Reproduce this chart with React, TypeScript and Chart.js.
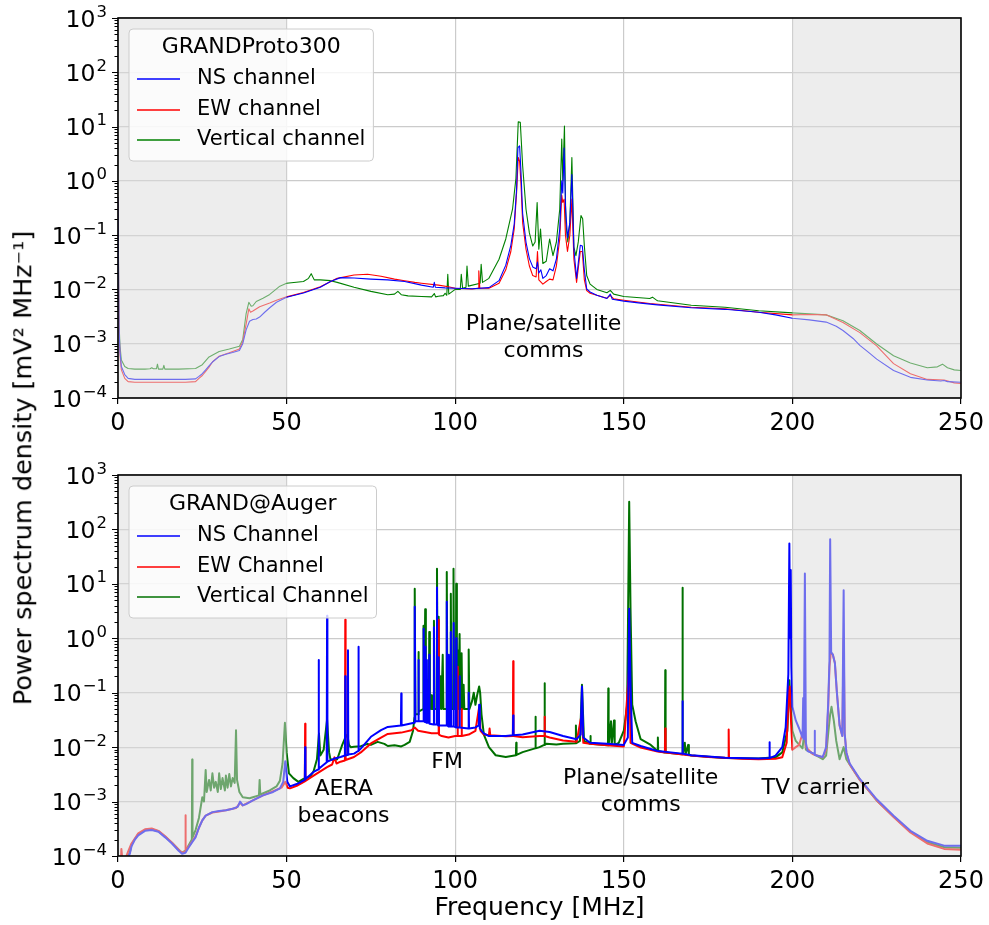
import React, { useEffect, useRef } from 'react';
import { Chart, registerables } from 'chart.js';

Chart.register(...registerables);

const FONT = '"DejaVu Sans", "Liberation Sans", sans-serif';
Chart.defaults.font.family = FONT;

// Axes
const freqTicks = [0, 50, 100, 150, 200, 250];
const psdDecades = [-4, -3, -2, -1, 0, 1, 2, 3];
const shadedBands = [[0, 50], [200, 250]];

// GRANDProto300 spectra, [frequency MHz, PSD mV²/MHz]
const proto300Ns = [
  [0, 0.5], [0.3, 2.0e-3], [0.6, 7e-4], [1, 3.8e-4], [2, 2.7e-4], [3, 2.3e-4], [5, 2.2e-4], [10, 2.2e-4],
  [15, 2.2e-4], [20, 2.2e-4], [23, 2.25e-4], [24, 2.5e-4], [25, 2.8e-4], [26, 3.3e-4], [27, 3.9e-4],
  [28, 4.6e-4], [30, 5.8e-4], [32, 6.4e-4], [34, 6.9e-4], [36, 7.5e-4], [37, 1.0e-3], [38, 1.8e-3],
  [39, 2.6e-3], [40, 2.8e-3], [41, 2.85e-3], [42, 3.1e-3], [43.5, 3.8e-3], [45, 4.6e-3], [47, 5.8e-3],
  [50, 7.2e-3], [55, 8.6e-3], [60, 1.1e-2], [63, 1.4e-2], [66, 1.65e-2], [70, 1.62e-2], [75, 1.55e-2],
  [80, 1.5e-2], [85, 1.4e-2], [90, 1.2e-2], [93.5, 1.1e-2], [93.8, 1.35e-2], [94.1, 1.1e-2], [97, 1.07e-2],
  [100, 1.05e-2], [105, 1.03e-2], [110, 1.08e-2], [113, 1.45e-2], [115, 2.8e-2], [116.5, 6.5e-2],
  [117.5, 0.16], [118.2, 0.7], [118.6, 4.1], [119.1, 4.4], [119.5, 1.5], [120, 0.25], [121, 7.4e-2],
  [122, 3.7e-2], [123, 2.6e-2], [124, 2.4e-2], [124.4, 3.2e-2], [124.8, 2.0e-2], [125.4, 2.3e-2],
  [126, 1.6e-2], [127, 1.8e-2], [128, 2.4e-2], [129, 2.2e-2], [130, 3.6e-2], [131, 0.13], [131.6, 1.0],
  [131.9, 0.6], [132.3, 4.0], [132.7, 0.35], [133.3, 0.09], [134, 0.17], [134.6, 1.3], [135.2, 5.5e-2],
  [136, 1.6e-2], [136.6, 3.5e-2], [137.1, 6.5e-2], [137.7, 6.3e-2], [138.3, 2.3e-2], [139, 1.02e-2],
  [140, 9e-3], [142, 7.8e-3], [145, 6.8e-3], [146, 8.2e-3], [146.6, 6.6e-3], [150, 6.1e-3], [155, 5.6e-3],
  [160, 5.2e-3], [170, 4.6e-3], [180, 4.3e-3], [190, 3.8e-3], [195, 3.4e-3], [200, 2.95e-3],
  [205, 2.75e-3], [210, 2.5e-3], [213, 2.1e-3], [215, 1.75e-3], [218, 1.25e-3], [220, 9.3e-4],
  [222.5, 7e-4], [225, 5.2e-4], [230, 3.2e-4], [235, 2.4e-4], [240, 2.15e-4], [244, 2.05e-4],
  [245, 2.1e-4], [246, 2.0e-4], [250, 1.95e-4],
];

const proto300Ew = [
  [0, 0.5], [0.3, 1.8e-3], [0.6, 6e-4], [1, 3.3e-4], [2, 2.3e-4], [3, 2.0e-4], [5, 1.95e-4], [10, 1.95e-4],
  [20, 1.95e-4], [23, 2.0e-4], [24, 2.3e-4], [25, 2.6e-4], [26, 3.1e-4], [27, 3.7e-4], [28, 4.6e-4],
  [30, 5.9e-4], [33, 6.8e-4], [36, 8.0e-4], [37, 1.1e-3], [38, 2.3e-3], [38.8, 4.4e-3], [39.3, 3.8e-3],
  [40, 4.0e-3], [42, 4.8e-3], [45, 5.6e-3], [47, 6.3e-3], [50, 7.3e-3], [55, 8.8e-3], [60, 1.12e-2],
  [65, 1.6e-2], [70, 1.85e-2], [74, 1.9e-2], [78, 1.75e-2], [82, 1.55e-2], [85, 1.45e-2], [88, 1.35e-2],
  [90, 1.3e-2], [95, 1.2e-2], [98, 1.12e-2], [100, 1.05e-2], [105, 1.02e-2], [106.8, 1.05e-2],
  [107, 2.2e-2], [107.3, 1.05e-2], [110, 1.05e-2], [113, 1.3e-2], [115, 2.3e-2], [116.5, 5e-2],
  [117.5, 0.13], [118.2, 0.6], [118.7, 2.7], [119.1, 2.3], [119.5, 0.9], [120, 0.17], [121, 5.5e-2],
  [122, 2.7e-2], [123, 1.8e-2], [124, 1.7e-2], [124.4, 5e-2], [124.8, 1.5e-2], [126, 1.25e-2],
  [127, 1.4e-2], [128, 1.55e-2], [129, 1.5e-2], [130, 2.7e-2], [131, 8.5e-2], [131.6, 0.55],
  [131.9, 0.4], [132.3, 0.46], [132.7, 0.1], [133.3, 5e-2], [134, 0.1], [134.6, 0.46], [135.2, 3.6e-2],
  [136, 1.35e-2], [137.1, 5e-2], [137.7, 5e-2], [138.3, 1.5e-2], [139, 9.5e-3], [140, 8.5e-3],
  [145, 6.9e-3], [146, 7.8e-3], [147, 6.7e-3], [150, 6.3e-3], [157.7, 5.5e-3], [170, 4.7e-3],
  [180, 4.4e-3], [190, 3.8e-3], [200, 3.4e-3], [205, 3.45e-3], [210, 3.4e-3], [215, 2.45e-3],
  [220, 1.6e-3], [225, 9.1e-4], [230, 4.3e-4], [235, 2.8e-4], [240, 2.2e-4], [245, 2.15e-4],
  [248, 1.9e-4], [250, 1.85e-4],
];

const proto300Vert = [
  [0, 0.5], [0.3, 2.4e-3], [0.6, 9e-4], [1, 5e-4], [2, 3.8e-4], [3, 3.5e-4], [5, 3.4e-4], [8, 3.4e-4],
  [9.5, 3.45e-4], [10, 3.6e-4], [10.5, 3.45e-4], [11.4, 3.45e-4], [11.7, 4.2e-4], [12, 3.4e-4],
  [13.3, 3.4e-4], [13.6, 4.0e-4], [13.9, 3.4e-4], [18, 3.4e-4], [23, 3.5e-4], [25, 4.1e-4], [27, 5.7e-4],
  [30, 7.2e-4], [33, 8.0e-4], [36, 9.0e-4], [37, 1.2e-3], [38, 3.6e-3], [38.8, 5.8e-3], [39.5, 4.9e-3],
  [40, 5.0e-3], [41, 6.0e-3], [43, 6.9e-3], [45, 8.1e-3], [48, 1.15e-2], [50, 1.3e-2], [55, 1.4e-2],
  [56.5, 1.6e-2], [57.3, 1.95e-2], [58.2, 1.5e-2], [60, 1.5e-2], [63, 1.45e-2], [65, 1.35e-2],
  [70, 1.1e-2], [75, 9.2e-3], [80, 8.0e-3], [82, 8.2e-3], [83, 9.2e-3], [84, 8.0e-3], [86, 7.6e-3],
  [90, 7.4e-3], [93, 7.3e-3], [93.8, 8.4e-3], [94.2, 7.3e-3], [95, 7.5e-3], [96.5, 7.7e-3], [97, 8.5e-3],
  [97.5, 7.8e-3], [97.8, 1.9e-2], [98.1, 8.2e-3], [99, 9e-3], [100, 1.0e-2], [101.5, 1.0e-2],
  [101.8, 1.9e-2], [102.2, 1.05e-2], [103.2, 1.1e-2], [103.5, 2.7e-2], [103.9, 1.15e-2], [107.4, 1.3e-2],
  [107.7, 2.9e-2], [108.1, 1.35e-2], [110, 1.6e-2], [113, 3.6e-2], [115, 8.5e-2], [117, 0.3], [118, 1.1],
  [118.7, 12.2], [119.3, 12], [120, 1.9], [121, 0.3], [122, 0.11], [123, 6.3e-2], [123.7, 7.5e-2],
  [124.3, 0.4], [124.8, 5.5e-2], [125.3, 0.13], [126, 3e-2], [127, 3.3e-2], [128, 8.5e-2], [129, 4.2e-2],
  [130, 7.4e-2], [131, 0.3], [131.6, 5.9], [131.9, 1.0], [132.4, 10.2], [132.8, 0.17], [133.4, 7.5e-2],
  [134, 0.17], [134.6, 2.7], [135.2, 6e-2], [135.8, 4.2e-2], [136.5, 7.5e-2], [137.3, 0.23],
  [137.8, 0.2], [138.3, 6.3e-2], [139, 1.8e-2], [140, 1.25e-2], [142, 1.0e-2], [145, 8.7e-3],
  [146, 9.6e-3], [147, 8.2e-3], [150, 7.4e-3], [157.7, 6.8e-3], [158.5, 7.2e-3], [159.5, 6.5e-3],
  [160, 6.2e-3], [170, 5.1e-3], [180, 4.7e-3], [190, 4.05e-3], [200, 3.7e-3], [210, 3.4e-3],
  [215, 2.65e-3], [220, 1.75e-3], [225, 9.9e-4], [230, 6e-4], [235, 4.4e-4], [240, 3.6e-4],
  [243, 3.75e-4], [244.5, 4.2e-4], [246, 3.6e-4], [248, 3.3e-4], [250, 3.2e-4],
];

// GRAND@Auger spectra, [frequency MHz, PSD mV²/MHz]
const augerNs = [
  [2.5, 8e-5], [3.5, 1.1e-4], [4, 1.5e-4], [5, 2.0e-4], [6, 2.4e-4], [8, 2.9e-4], [10, 3.0e-4], [12, 2.8e-4],
  [14, 2.2e-4], [16, 1.7e-4], [18, 1.25e-4], [19, 1.1e-4], [20, 1.15e-4], [21, 1.45e-4], [22, 1.8e-4],
  [23, 2.2e-4], [24, 3.3e-4], [25, 4.5e-4], [26, 5.5e-4], [28, 6.4e-4], [30, 6.7e-4], [32, 6.9e-4],
  [34, 7.4e-4], [35.5, 8.0e-4], [36.2, 1.0e-3], [37, 8.5e-4], [38, 9.0e-4], [40, 1.05e-3], [43, 1.3e-3],
  [46, 1.5e-3], [48, 1.75e-3], [49, 2.3e-3], [49.6, 5.5e-3], [50.2, 2.3e-3], [51, 1.9e-3], [53, 2.1e-3],
  [55.4, 2.5e-3], [55.5, 1.0e-2], [55.6, 2.6e-3], [58, 3.5e-3], [59.4, 3.9e-3], [59.5, 0.4], [59.6, 4.0e-3],
  [61.9, 5.3e-3], [62, 2.6], [62.1, 5.4e-3], [64, 6.1e-3], [66, 6.6e-3], [67.3, 7.0e-3], [67.4, 0.2],
  [67.5, 7.0e-3], [68.1, 7.2e-3], [68.2, 0.6], [68.3, 7.3e-3], [70, 7.6e-3], [71.2, 8.5e-3], [71.3, 0.7],
  [71.4, 8.6e-3], [72, 9.4e-3], [75, 1.55e-2], [78, 2.05e-2], [80, 2.35e-2], [83.9, 2.5e-2], [84, 9.7e-2],
  [84.1, 2.5e-2], [87.8, 2.8e-2], [88, 3.8], [88.2, 3.0e-2], [89, 3.0e-2], [89.1, 0.4], [89.2, 3.0e-2],
  [90.5, 3.0e-2], [90.6, 1.5], [90.7, 3.0e-2], [91.0, 2.9e-2], [91.1, 0.7], [91.2, 2.9e-2], [91.5, 2.8e-2],
  [91.6, 0.4], [91.7, 2.8e-2], [92.2, 2.8e-2], [92.3, 0.5], [92.4, 2.7e-2], [93.6, 2.6e-2], [93.7, 1.6],
  [93.8, 2.6e-2], [94.5, 2.6e-2], [94.6, 8.6], [94.7, 2.6e-2], [95.0, 2.5e-2], [95.1, 0.45], [95.2, 2.5e-2],
  [97.4, 2.5e-2], [97.5, 4.7], [97.6, 2.5e-2], [98.0, 2.4e-2], [98.1, 0.5], [98.2, 2.4e-2], [98.6, 2.4e-2],
  [98.7, 1.3], [98.8, 2.4e-2], [99.4, 2.4e-2], [99.5, 1.9], [99.6, 2.4e-2], [100.2, 2.3e-2], [100.3, 1.0],
  [100.4, 2.3e-2], [101.2, 2.3e-2], [101.3, 0.2], [101.4, 2.3e-2], [103.9, 2.2e-2], [104, 0.1],
  [104.1, 2.2e-2], [106, 2.3e-2], [107, 2.5e-2], [107.1, 6e-2], [107.3, 2.2e-2], [108.4, 1.8e-2],
  [110, 1.6e-2], [115, 1.6e-2], [117.1, 1.65e-2], [117.2, 3.8e-2], [117.3, 1.65e-2], [120, 1.7e-2],
  [125, 2.0e-2], [128, 1.9e-2], [132, 1.6e-2], [136, 1.4e-2], [137.2, 1.7e-2], [137.6, 0.13], [138, 1.5e-2],
  [140, 1.2e-2], [145, 1.15e-2], [150, 1.1e-2], [151.2, 1.5e-2], [151.6, 3.5], [152, 0.13], [152.5, 1.2e-2],
  [155, 1.05e-2], [160, 8.5e-3], [167.3, 7.6e-3], [167.4, 7e-2], [167.5, 7.6e-3], [170, 7.1e-3],
  [180, 6.4e-3], [190, 6.2e-3], [193.1, 6.3e-3], [193.2, 1.23e-2], [193.3, 6.3e-3], [195, 7e-3],
  [197, 1.0e-2], [198, 2.3e-2], [198.8, 0.22], [199.1, 55], [199.3, 1.0], [199.5, 18], [199.7, 0.3],
  [200, 5.5e-2], [201, 3.1e-2], [202, 2.2e-2], [203, 1.5e-2], [203.2, 8e-2], [203.4, 1.4e-2], [203.7, 15.5],
  [204, 1.2e-2], [204.5, 8.5e-3], [206.5, 7.5e-3], [206.6, 2e-2], [206.7, 7.2e-3], [209, 6.6e-3],
  [210, 1e-2], [210.6, 6e-2], [211, 0.4], [211.2, 66], [211.5, 0.55], [212, 0.5], [212.6, 0.35],
  [213.2, 0.1], [214, 2.5e-2], [214.8, 1.6e-2], [215.2, 7.6], [215.5, 1.8e-2], [216, 8e-3], [217, 5e-3],
  [220, 2.6e-3], [225, 1.1e-3], [230, 5.5e-4], [235, 2.9e-4], [240, 1.9e-4], [245, 1.55e-4], [250, 1.55e-4],
];

const augerEw = [
  [0.8, 5e-5], [1.0, 1.35e-4], [1.3, 8.5e-5], [2.2, 9e-5], [3, 1.2e-4], [4, 1.7e-4], [5, 2.1e-4], [6, 2.6e-4],
  [8, 3.1e-4], [10, 3.2e-4], [12, 2.9e-4], [14, 2.3e-4], [16, 1.75e-4], [18, 1.3e-4], [19, 1.15e-4],
  [19.9, 1.2e-4], [20, 5.6e-4], [20.1, 1.25e-4], [21, 1.5e-4], [22, 1.85e-4], [23, 2.3e-4], [24, 3.3e-4],
  [25, 4.5e-4], [26, 5.5e-4], [28, 6.3e-4], [30, 6.6e-4], [32, 6.9e-4], [35, 7.6e-4], [36.2, 9.5e-4],
  [37, 8.5e-4], [40, 1.05e-3], [43, 1.3e-3], [46, 1.55e-3], [48.5, 1.8e-3], [49.6, 2.3e-3], [50.3, 1.8e-3],
  [51, 1.75e-3], [53, 1.95e-3], [55.4, 2.35e-3], [55.5, 2.7e-2], [55.6, 2.4e-3], [58, 3.0e-3], [60, 3.6e-3],
  [62, 4.3e-3], [63.5, 4.8e-3], [64.2, 6.5e-3], [64.8, 5.0e-3], [66, 5.4e-3], [67.3, 5.7e-3], [67.4, 2.2],
  [67.5, 5.8e-3], [70, 6.6e-3], [72, 8e-3], [75, 1.17e-2], [78, 1.5e-2], [80, 1.75e-2], [84, 1.85e-2],
  [87, 2.05e-2], [88, 2.3e-2], [89, 2.0e-2], [91, 1.9e-2], [93, 1.8e-2], [95.0, 1.8e-2], [95.1, 2.2],
  [95.2, 1.7e-2], [96, 1.6e-2], [98, 1.5e-2], [100, 1.6e-2], [100.6, 1.6e-2], [100.7, 0.3], [100.8, 1.6e-2],
  [101.8, 1.6e-2], [101.9, 5e-2], [102, 1.6e-2], [104, 1.7e-2], [106, 2.0e-2], [107.1, 5.4e-2],
  [107.5, 2.0e-2], [108.5, 1.7e-2], [110, 1.65e-2], [110.2, 2.2e-2], [110.4, 1.65e-2], [115, 1.58e-2],
  [117.1, 1.6e-2], [117.2, 0.38], [117.3, 1.6e-2], [120, 1.52e-2], [125, 1.6e-2], [126.4, 1.6e-2],
  [126.5, 3.6e-2], [126.6, 1.6e-2], [128, 1.5e-2], [132, 1.32e-2], [136, 1.25e-2], [137.5, 4e-2],
  [138, 1.2e-2], [140, 1.15e-2], [145, 1.08e-2], [150, 1.03e-2], [151.6, 0.3], [152, 1.2e-2],
  [155, 9.8e-3], [160, 8.3e-3], [162.2, 8e-3], [162.3, 2.2e-2], [162.4, 8e-3], [165, 7.6e-3], [170, 7e-3],
  [175, 6.6e-3], [181, 6.3e-3], [181.1, 2.1e-2], [181.2, 6.3e-3], [185, 6.1e-3], [190, 6.0e-3],
  [195, 6.1e-3], [197, 6.5e-3], [198.3, 1.2e-2], [198.9, 0.1], [199.2, 0.13], [199.5, 4e-2], [200, 9e-3],
  [201, 1e-2], [202, 1.1e-2], [203, 1.8e-2], [203.6, 3e-2], [204, 1e-2], [206, 7.5e-3], [209, 6.5e-3],
  [210, 9e-3], [210.6, 5e-2], [211, 0.3], [211.4, 0.55], [212, 0.5], [212.6, 0.35], [213.2, 0.1],
  [214, 2.5e-2], [214.8, 1.6e-2], [215.2, 1.0], [215.5, 1.8e-2], [216, 8e-3], [217, 4.8e-3], [220, 2.5e-3],
  [225, 1.05e-3], [230, 5.2e-4], [235, 2.7e-4], [240, 1.7e-4], [245, 1.35e-4], [250, 1.3e-4],
];

const augerVert = [
  [1.5, 6e-5], [2.5, 9e-5], [3.5, 1.15e-4], [4, 1.6e-4], [5, 2.05e-4], [6, 2.5e-4], [8, 3.0e-4], [10, 3.1e-4],
  [12, 2.85e-4], [14, 2.25e-4], [16, 1.75e-4], [18, 1.3e-4], [19, 1.15e-4], [20, 1.25e-4], [21, 1.6e-4],
  [21.9, 2.0e-4], [22, 5.9e-3], [22.1, 2.2e-4], [23, 3e-4], [24, 5e-4], [25, 1.2e-3], [25.5, 1.0e-3],
  [26, 3.8e-3], [26.3, 1.5e-3], [27, 2.5e-3], [27.5, 1.6e-3], [28, 3.3e-3], [28.5, 1.8e-3], [29, 2.3e-3],
  [29.6, 1.5e-3], [30, 3.3e-3], [30.5, 1.7e-3], [31, 2.7e-3], [31.7, 1.6e-3], [32, 3.0e-3], [32.5, 1.8e-3],
  [33, 3.2e-3], [33.5, 1.9e-3], [34, 2.7e-3], [34.6, 2.2e-3], [35, 2.05e-2], [35.3, 2.5e-3], [36, 1.5e-3],
  [37, 1.2e-3], [39, 1.15e-3], [40, 1.2e-3], [41.8, 1.3e-3], [42, 2.5e-3], [42.2, 1.35e-3], [45, 1.6e-3],
  [47, 1.9e-3], [48, 2.4e-3], [48.8, 5e-3], [49.5, 2.8e-2], [50, 8e-3], [50.7, 3.3e-3], [52, 2.7e-3],
  [53.5, 2.3e-3], [55, 2.6e-3], [57, 2.9e-3], [58, 3.6e-3], [59, 6e-3], [59.6, 1.78e-2], [60, 7e-3],
  [61, 9e-3], [62, 3.2e-2], [62.6, 8e-3], [63, 6e-3], [64, 5.8e-3], [65, 6e-3], [66.5, 1.1e-2],
  [67.4, 1.5e-2], [68, 1.7e-2], [68.5, 1.1e-2], [69, 1.0e-2], [70, 1.02e-2], [72, 1.04e-2], [74, 1.15e-2],
  [75, 1.1e-2], [77, 1.25e-2], [79, 1.15e-2], [80, 1.05e-2], [82, 1.08e-2], [84, 1.03e-2], [85, 1.1e-2],
  [86.5, 1.25e-2], [87.5, 2.0e-2], [87.9, 3.5e-2], [88, 8.1], [88.2, 4e-2], [89, 4e-2], [89.1, 0.56],
  [89.2, 4.5e-2], [90.5, 5e-2], [90.6, 1.7], [90.8, 5e-2], [91, 5e-2], [91.1, 3.4], [91.3, 5e-2],
  [92.2, 5e-2], [92.3, 1.3], [92.5, 5e-2], [92.9, 9e-2], [93.1, 5e-2], [93.6, 5e-2], [93.7, 2.1],
  [93.9, 5e-2], [94.5, 5e-2], [94.6, 19], [94.8, 5e-2], [95.0, 5e-2], [95.1, 2.5], [95.3, 5e-2],
  [95.7, 0.2], [95.9, 5e-2], [96.3, 0.5], [96.5, 5e-2], [97.4, 5e-2], [97.5, 16.6], [97.7, 5e-2],
  [98.1, 0.1], [98.3, 5e-2], [98.6, 5e-2], [98.7, 6.6], [98.9, 5e-2], [99.4, 5e-2], [99.5, 19],
  [99.7, 5e-2], [100.2, 5e-2], [100.3, 10], [100.5, 5e-2], [100.7, 0.6], [100.9, 5e-2], [101.3, 1.2],
  [101.5, 5e-2], [101.9, 0.53], [102.1, 5e-2], [102.5, 0.14], [102.7, 5e-2], [103.9, 5e-2], [104, 0.62],
  [104.2, 5e-2], [105, 7e-2], [105.5, 0.1], [106, 6e-2], [106.5, 9e-2], [107.1, 0.13], [107.4, 0.1],
  [107.8, 4e-2], [108.5, 1.7e-2], [110, 1.0e-2], [112, 7.1e-3], [115, 6.6e-3], [118, 7.1e-3],
  [118.1, 1.2e-2], [118.2, 7.2e-3], [120, 8.1e-3], [123.7, 9.5e-3], [123.8, 3.6e-2], [123.9, 9.5e-3],
  [125, 1.0e-2], [126.4, 1.1e-2], [126.5, 0.15], [126.6, 1.1e-2], [127, 1.15e-2], [130, 1.12e-2],
  [132, 1.15e-2], [135.7, 1.18e-2], [135.8, 2.5e-2], [135.9, 1.18e-2], [137, 1.3e-2], [137.6, 0.14],
  [138.2, 1.3e-2], [140, 1.15e-2], [140.1, 1.6e-2], [140.2, 1.15e-2], [145.3, 1.08e-2], [145.4, 0.12],
  [145.5, 1.08e-2], [146.2, 3e-2], [146.4, 1.1e-2], [147.1, 3.1e-2], [147.3, 1.1e-2], [148.5, 1.2e-2],
  [150, 2e-2], [151, 6e-2], [151.6, 324], [152, 3.3], [152.5, 6e-2], [153.5, 3e-2], [155, 1.4e-2],
  [158, 1.1e-2], [160, 8.5e-3], [160.1, 1.5e-2], [160.2, 8.5e-3], [162.2, 8e-3], [162.3, 0.26],
  [162.4, 8e-3], [167.3, 7.4e-3], [167.4, 8.5], [167.5, 7.4e-3], [168.1, 1.2e-2], [168.3, 7.3e-3],
  [169.1, 1.1e-2], [169.3, 7.2e-3], [170, 7e-3], [180, 6.3e-3], [190, 6.2e-3], [195, 6.5e-3], [197, 8e-3],
  [198.5, 2e-2], [199.1, 0.17], [199.5, 5e-2], [200, 2e-2], [201, 1.3e-2], [203, 9.5e-3], [203.6, 2e-2],
  [204, 9e-3], [209, 6e-3], [210, 7e-3], [210.7, 2e-2], [211.2, 4e-2], [211.6, 5.5e-2], [212.3, 3e-2],
  [213, 1.3e-2], [214, 6e-3], [215.2, 1e-2], [216, 6e-3], [217, 4.8e-3], [220, 2.5e-3], [225, 1.05e-3],
  [230, 5.3e-4], [235, 2.8e-4], [240, 1.8e-4], [245, 1.45e-4], [250, 1.42e-4],
];

type Note = { lines: string[]; freq: number; psd: number };

const proto300Notes: Note[] = [{ lines: ['Plane/satellite', 'comms'], freq: 126.2, psd: 1.28e-3 }];
const augerNotes: Note[] = [
  { lines: ['AERA', 'beacons'], freq: 66.9, psd: 9.4e-4 },
  { lines: ['FM'], freq: 97.6, psd: 5.2e-3 },
  { lines: ['Plane/satellite', 'comms'], freq: 155, psd: 1.5e-3 },
  { lines: ['TV carrier'], freq: 206.8, psd: 1.78e-3 },
];

type Panel = {
  legendTitle: string;
  series: { label: string; color: string; points: number[][] }[];
  notes: Note[];
  lineWidth: number;
  height: number;
  padTop: number;
  xAxisHeight: number;
  xTitle?: string;
};

const proto300Panel: Panel = {
  legendTitle: 'GRANDProto300',
  series: [
    { label: 'NS channel', color: '#0000ff', points: proto300Ns },
    { label: 'EW channel', color: '#ff0000', points: proto300Ew },
    { label: 'Vertical channel', color: '#008000', points: proto300Vert },
  ],
  notes: proto300Notes,
  lineWidth: 1.1,
  height: 462,
  padTop: 18,
  xAxisHeight: 64,
};

const augerPanel: Panel = {
  legendTitle: 'GRAND@Auger',
  series: [
    { label: 'NS Channel', color: '#0000ff', points: augerNs },
    { label: 'EW Channel', color: '#ff0000', points: augerEw },
    { label: 'Vertical Channel', color: '#007000', points: augerVert },
  ],
  notes: augerNotes,
  lineWidth: 2,
  height: 463,
  padTop: 13,
  xAxisHeight: 69,
  xTitle: 'Frequency [MHz]',
};

const GRID = '#cbcbcb';

function decorPlugin(panel: Panel) {
  return {
    id: 'panelDecor',
    afterDatasetsDraw(chart: any) {
      const { ctx, chartArea: a, scales } = chart;
      const xs = scales.x;
      const ys = scales.y;
      ctx.save();

      // grey bands laid over the traces
      ctx.fillStyle = 'rgba(220,220,220,0.5)';
      for (const [f0, f1] of shadedBands) {
        const x0 = Math.max(a.left, xs.getPixelForValue(f0));
        const x1 = Math.min(a.right, xs.getPixelForValue(f1));
        ctx.fillRect(x0, a.top, x1 - x0, a.bottom - a.top);
      }

      // band annotations
      ctx.fillStyle = '#000';
      ctx.font = `22px ${FONT}`;
      ctx.textAlign = 'center';
      ctx.textBaseline = 'middle';
      for (const n of panel.notes) {
        const cx = xs.getPixelForValue(n.freq);
        const cy = ys.getPixelForValue(n.psd);
        const lh = 27;
        const y0 = cy - ((n.lines.length - 1) * lh) / 2;
        n.lines.forEach((t, i) => ctx.fillText(t, cx, y0 + i * lh));
      }

      // frame
      ctx.strokeStyle = '#000';
      ctx.lineWidth = 1.6;
      ctx.strokeRect(a.left, a.top, a.right - a.left, a.bottom - a.top);

      // log ticks on the PSD axis
      ctx.lineWidth = 1.1;
      ctx.beginPath();
      for (let e = psdDecades[0]; e < psdDecades[psdDecades.length - 1]; e++) {
        for (let m = 2; m <= 9; m++) {
          const py = Math.round(ys.getPixelForValue(m * Math.pow(10, e))) + 0.5;
          ctx.moveTo(a.left - 3.5, py);
          ctx.lineTo(a.left, py);
        }
      }
      for (const e of psdDecades) {
        const py = Math.round(ys.getPixelForValue(Math.pow(10, e))) + 0.5;
        ctx.moveTo(a.left - 6, py);
        ctx.lineTo(a.left, py);
      }
      ctx.stroke();

      // decade labels: 10 with a raised exponent
      ctx.textAlign = 'right';
      ctx.textBaseline = 'alphabetic';
      const rx = a.left - 11;
      for (const e of psdDecades) {
        const py = ys.getPixelForValue(Math.pow(10, e));
        const exp = e < 0 ? '\u2212' + String(-e) : String(e);
        ctx.font = `16.5px ${FONT}`;
        const ew = ctx.measureText(exp).width;
        ctx.fillText(exp, rx, py - 1.5);
        ctx.font = `23.5px ${FONT}`;
        ctx.fillText('10', rx - ew - 1, py + 8.5);
      }

      // legend
      const ds = chart.data.datasets;
      ctx.font = `21px ${FONT}`;
      const textW = Math.max(...ds.map((d: any) => ctx.measureText(d.label).width));
      const lx = a.left + 11;
      const ly = a.top + 11;
      const w = 8 + 43 + 17 + textW + 8;
      const h = 132;
      const r = 4;
      ctx.beginPath();
      ctx.moveTo(lx + r, ly);
      ctx.lineTo(lx + w - r, ly);
      ctx.arcTo(lx + w, ly, lx + w, ly + r, r);
      ctx.lineTo(lx + w, ly + h - r);
      ctx.arcTo(lx + w, ly + h, lx + w - r, ly + h, r);
      ctx.lineTo(lx + r, ly + h);
      ctx.arcTo(lx, ly + h, lx, ly + h - r, r);
      ctx.lineTo(lx, ly + r);
      ctx.arcTo(lx, ly, lx + r, ly, r);
      ctx.closePath();
      ctx.fillStyle = 'rgba(255,255,255,0.8)';
      ctx.fill();
      ctx.strokeStyle = '#cccccc';
      ctx.lineWidth = 1;
      ctx.stroke();

      ctx.fillStyle = '#000';
      ctx.textBaseline = 'middle';
      ctx.textAlign = 'center';
      ctx.font = `22px ${FONT}`;
      ctx.fillText(panel.legendTitle, lx + w / 2, ly + 18.5);
      ctx.font = `21px ${FONT}`;
      ctx.textAlign = 'left';
      ds.forEach((d: any, i: number) => {
        const ey = ly + 50 + i * 30.5;
        const sy = Math.round(ey);
        ctx.strokeStyle = d.borderColor;
        ctx.lineWidth = Math.min(1.5, d.borderWidth + 0.2);
        ctx.beginPath();
        ctx.moveTo(lx + 8, sy);
        ctx.lineTo(lx + 51, sy);
        ctx.stroke();
        ctx.fillStyle = '#000';
        ctx.fillText(d.label, lx + 68, ey);
      });

      ctx.restore();
    },
  };
}

function buildChart(canvas: HTMLCanvasElement, panel: Panel) {
  return new Chart(canvas, {
    type: 'line',
    data: {
      datasets: panel.series.map((s) => ({
        label: s.label,
        data: s.points.map(([x, y]) => ({ x, y })),
        borderColor: s.color,
        borderWidth: panel.lineWidth,
        borderJoinStyle: 'round',
        pointRadius: 0,
        tension: 0,
        fill: false,
      })),
    },
    options: {
      animation: false,
      responsive: false,
      maintainAspectRatio: false,
      devicePixelRatio: 1,
      events: [],
      layout: { padding: { top: panel.padTop, right: 28, left: 0, bottom: 0 } },
      plugins: { legend: { display: false }, tooltip: { enabled: false } },
      scales: {
        x: {
          type: 'linear',
          min: 0,
          max: 250,
          afterBuildTicks: (s: any) => {
            s.ticks = freqTicks.map((v) => ({ value: v }));
          },
          afterFit: (s: any) => {
            s.height = panel.xAxisHeight;
          },
          grid: { color: GRID, lineWidth: 1.2, tickColor: '#000', tickLength: 6, tickWidth: 1.2 },
          border: { display: false },
          ticks: { color: '#000', font: { size: 24, family: FONT }, padding: 5, maxRotation: 0 },
          title: {
            display: !!panel.xTitle,
            text: panel.xTitle || '',
            color: '#000',
            font: { size: 25, family: FONT },
            padding: { top: 0, bottom: 2 },
          },
        },
        y: {
          type: 'logarithmic',
          min: 1e-4,
          max: 1e3,
          afterBuildTicks: (s: any) => {
            s.ticks = psdDecades.map((e) => ({ value: Math.pow(10, e) }));
          },
          afterFit: (s: any) => {
            s.width = 118;
          },
          grid: { color: GRID, lineWidth: 1.2, drawTicks: false },
          border: { display: false },
          ticks: { display: false },
        },
      },
    } as any,
    plugins: [decorPlugin(panel)],
  });
}

export default function App() {
  const topRef = useRef<HTMLCanvasElement>(null);
  const bottomRef = useRef<HTMLCanvasElement>(null);

  useEffect(() => {
    const charts = [buildChart(topRef.current!, proto300Panel), buildChart(bottomRef.current!, augerPanel)];
    return () => charts.forEach((c) => c.destroy());
  }, []);

  return (
    <div style={{ position: 'absolute', left: 0, top: 0, width: 989, height: 925, background: '#fff', fontFamily: FONT }}>
      <canvas ref={topRef} width={989} height={proto300Panel.height} style={{ position: 'absolute', left: 0, top: 0 }} />
      <canvas
        ref={bottomRef}
        width={989}
        height={augerPanel.height}
        style={{ position: 'absolute', left: 0, top: proto300Panel.height }}
      />
      <div
        style={{
          position: 'absolute',
          left: 23,
          top: 468,
          transform: 'translate(-50%, -50%) rotate(-90deg)',
          fontSize: 25.5,
          lineHeight: 1,
          whiteSpace: 'nowrap',
          color: '#000',
        }}
      >
        Power spectrum density [mV² MHz⁻¹]
      </div>
    </div>
  );
}
